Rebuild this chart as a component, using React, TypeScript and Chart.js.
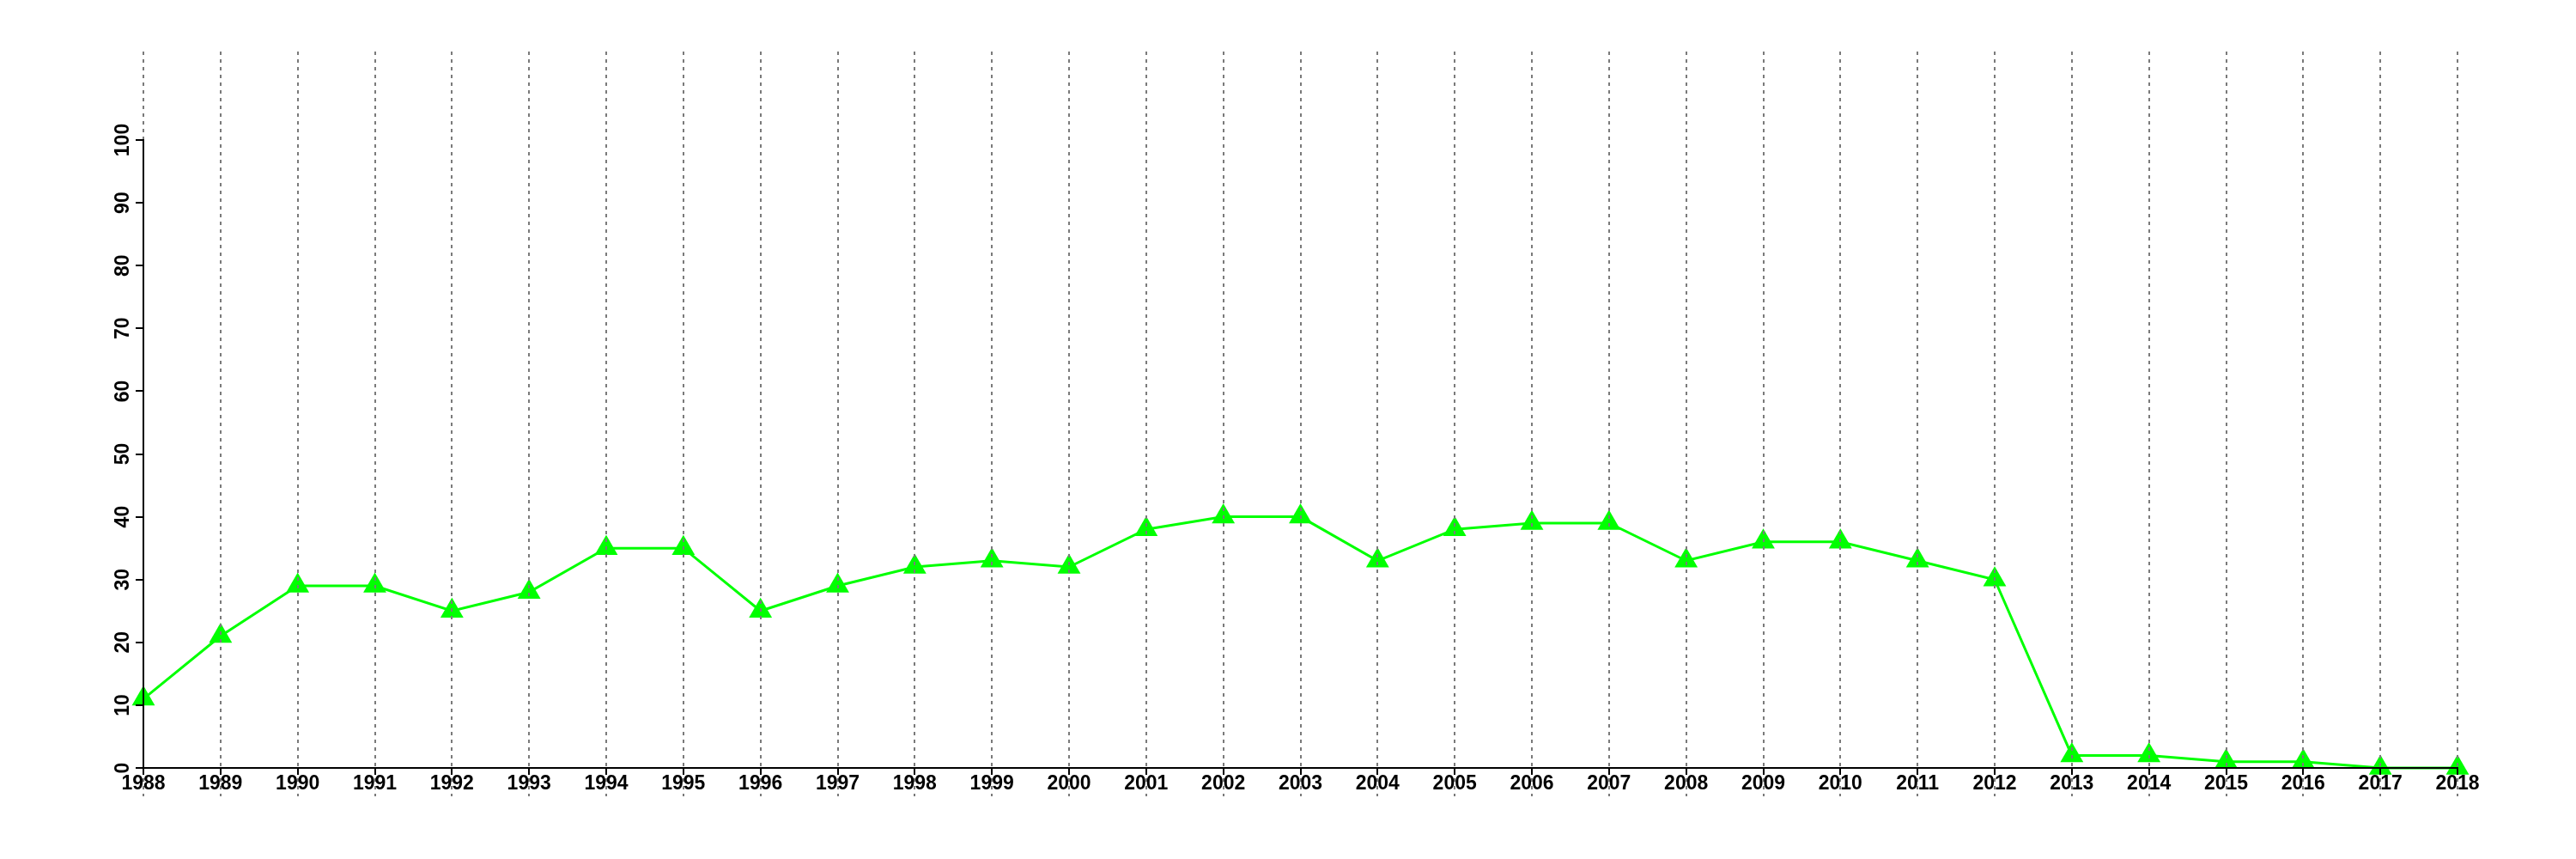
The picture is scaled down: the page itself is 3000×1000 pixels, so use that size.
import React, { useEffect, useRef } from "react";
import { Chart, registerables } from "chart.js";

Chart.register(...registerables);

const years: string[] = [
  "1988", "1989", "1990", "1991", "1992", "1993", "1994", "1995", "1996", "1997",
  "1998", "1999", "2000", "2001", "2002", "2003", "2004", "2005", "2006", "2007",
  "2008", "2009", "2010", "2011", "2012", "2013", "2014", "2015", "2016", "2017", "2018",
];
const values: number[] = [
  11, 21, 29, 29, 25, 28, 35, 35, 25, 29,
  32, 33, 32, 38, 40, 40, 33, 38, 39, 39,
  33, 36, 36, 33, 30, 2, 2, 1, 1, 0, 0,
];
const yTicks: number[] = [0, 10, 20, 30, 40, 50, 60, 70, 80, 90, 100];

const FONT = '"Liberation Sans", Arial, Helvetica, sans-serif';

const gridPlugin = {
  id: "dashedYearLines",
  afterDatasetsDraw(chart: any) {
    const { ctx, scales } = chart;
    const x = scales.x;
    const y = scales.y;
    const top = y.getPixelForValue(114.1);
    const bottom = y.getPixelForValue(-4.5);
    ctx.save();
    ctx.strokeStyle = "#7a7a7a";
    ctx.lineWidth = 2;
    ctx.setLineDash([4, 5]);
    for (let i = 0; i < years.length; i++) {
      const px = Math.round(x.getPixelForValue(i));
      ctx.beginPath();
      ctx.moveTo(px, top);
      ctx.lineTo(px, bottom);
      ctx.stroke();
    }
    ctx.restore();
  },
  afterDraw(chart: any) {
    const { ctx, scales } = chart;
    const y = scales.y;
    ctx.save();
    ctx.fillStyle = "#000";
    ctx.font = `bold 23px ${FONT}`;
    ctx.textAlign = "center";
    ctx.textBaseline = "alphabetic";
    for (const v of yTicks) {
      const py = y.getPixelForValue(v);
      ctx.save();
      ctx.translate(y.right - 17, py);
      ctx.rotate(-Math.PI / 2);
      ctx.fillText(String(v), 0, 0);
      ctx.restore();
    }
    ctx.restore();
  },
};

export default function App() {
  const canvasRef = useRef<HTMLCanvasElement | null>(null);

  useEffect(() => {
    if (!canvasRef.current) return;
    const chart = new Chart(canvasRef.current, {
      type: "line",
      data: {
        labels: years,
        datasets: [
          {
            data: values,
            borderColor: "#00ff00",
            backgroundColor: "#00ff00",
            borderWidth: 3,
            pointStyle: "triangle",
            pointRadius: 15.5,
            pointHoverRadius: 15.5,
            pointBackgroundColor: "#00ff00",
            pointBorderColor: "#00ff00",
            pointBorderWidth: 0,
            tension: 0,
            clip: false as any,
          },
        ],
      },
      options: {
        animation: false,
        responsive: true,
        maintainAspectRatio: false,
        events: [],
        layout: {
          autoPadding: false,
          padding: { left: 0, top: 163, right: 138, bottom: 0 },
        },
        plugins: {
          legend: { display: false },
          tooltip: { enabled: false },
          title: { display: false },
        },
        scales: {
          x: {
            type: "category",
            offset: false,
            afterFit: (s: any) => {
              s.height = 106;
            },
            grid: {
              display: true,
              drawOnChartArea: false,
              drawTicks: true,
              tickLength: 8,
              color: "#000",
              lineWidth: 2,
              z: 1,
            },
            border: { display: true, color: "#000", width: 2, z: 1 },
            ticks: {
              color: "#000",
              font: { family: FONT, size: 23, weight: "bold", lineHeight: 1 },
              padding: -1,
              maxRotation: 0,
              minRotation: 0,
              autoSkip: false,
              z: 1,
            },
          },
          y: {
            type: "linear",
            min: 0,
            max: 100,
            afterFit: (s: any) => {
              s.width = 167;
            },
            afterBuildTicks: (s: any) => {
              s.ticks = yTicks.map((v) => ({ value: v }));
            },
            grid: {
              display: true,
              drawOnChartArea: false,
              drawTicks: true,
              tickLength: 9,
              color: "#000",
              lineWidth: 2,
              z: 1,
            },
            border: { display: true, color: "#000", width: 2, z: 1 },
            ticks: { display: false },
          },
        },
      },
      plugins: [gridPlugin],
    });
    return () => chart.destroy();
  }, []);

  return (
    <div style={{ position: "fixed", left: 0, top: 0, width: 3000, height: 1000, background: "#fff" }}>
      <canvas ref={canvasRef} />
    </div>
  );
}
